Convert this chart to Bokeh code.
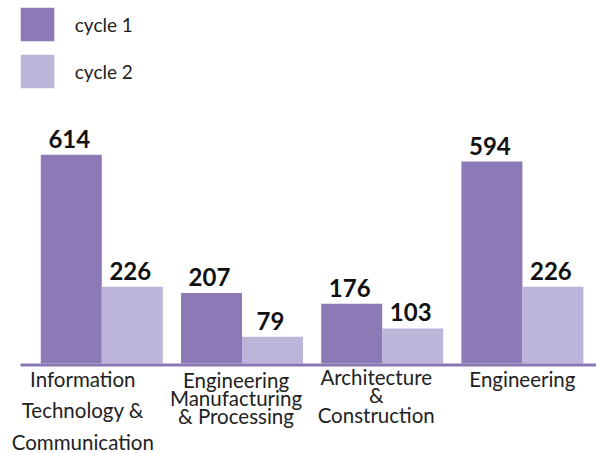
from bokeh.plotting import figure
from bokeh.models import ColumnDataSource, Range1d, Legend, LegendItem
from bokeh.transform import dodge
from bokeh.core.properties import value
from bokeh.embed import file_html
from bokeh.resources import INLINE

# ---- data ----
categories = ["Information Technology & Communication",
              "Engineering Manufacturing & Processing",
              "Architecture & Construction",
              "Engineering"]
category_lines = [["Information", "Technology &", "Communication"],
                  ["Engineering", "Manufacturing", "& Processing"],
                  ["Architecture", "&", "Construction"],
                  ["Engineering"]]
series = ["cycle 1", "cycle 2"]
cycle1 = [614, 207, 176, 594]
cycle2 = [226, 79, 103, 226]

# ---- style / layout ----
W, H = 596, 453
C1, C2 = "#8c7ab7", "#bdb4da"
AXIS_C = "#8a76b3"
FONT = "Lato"
PX_PER_GROUP = 140.2
PX_PER_UNIT_Y = 0.34
BASE_Y = 363           # canvas px of baseline
GROUP0_X = 101.3       # canvas px of first group centre
BAR_W = 61 / PX_PER_GROUP
label_dx = [-19, -6, -6, 0]
line_offsets = [[15, 46, 78], [16, 34, 52], [13, 31, 51], [15]]

idx = list(range(len(categories)))
src = ColumnDataSource(dict(
    idx=idx, cycle1=cycle1, cycle2=cycle2,
    t1=[str(v) for v in cycle1], t2=[str(v) for v in cycle2]))

x_start = -GROUP0_X / PX_PER_GROUP
x_end = (W - GROUP0_X) / PX_PER_GROUP
y_top = BASE_Y / PX_PER_UNIT_Y
y_bot = -(H - BASE_Y) / PX_PER_UNIT_Y

p = figure(width=W, height=H, output_backend="svg", toolbar_location=None,
           x_range=Range1d(x_start, x_end), y_range=Range1d(y_bot, y_top),
           x_axis_location=None, y_axis_location=None, min_border=0,
           outline_line_color=None, background_fill_color="white",
           border_fill_color="white")
p.grid.visible = False

r1 = p.vbar(x=dodge("idx", -BAR_W / 2, range=p.x_range), top="cycle1", bottom=0,
            width=BAR_W, source=src, fill_color=C1, line_color=None)
r2 = p.vbar(x=dodge("idx", BAR_W / 2, range=p.x_range), top="cycle2", bottom=0,
            width=BAR_W, source=src, fill_color=C2, line_color=None)

# baseline
p.segment(x0=[x_start + 20 / PX_PER_GROUP], x1=[x_end], y0=[-1.5 / PX_PER_UNIT_Y],
          y1=[-1.5 / PX_PER_UNIT_Y], line_color=AXIS_C, line_width=3)

for col, tcol, dx in (("cycle1", "t1", -BAR_W / 2), ("cycle2", "t2", BAR_W / 2)):
    p.text(x=dodge("idx", dx, range=p.x_range), y=col, text=tcol, source=src,
           text_align="center", text_baseline="alphabetic", y_offset=-16, x_offset=-2,
           text_font=value(FONT), text_font_style="bold", text_font_size="24px",
           text_color="#111111")

# category labels
lx, ly, lt, lxo, lyo = [], [], [], [], []
for i, lines in enumerate(category_lines):
    for j, line in enumerate(lines):
        lx.append(i); ly.append(0); lt.append(line)
        lxo.append(label_dx[i]); lyo.append(line_offsets[i][j])
lsrc = ColumnDataSource(dict(x=lx, y=ly, text=lt, xo=lxo, yo=lyo))
p.text(x="x", y="y", text="text", x_offset="xo", y_offset="yo", source=lsrc,
       text_align="center", text_baseline="alphabetic",
       text_font=value(FONT), text_font_size="20.5px", text_color="#222222")

legend = Legend(items=[LegendItem(label=series[0], renderers=[r1]),
                       LegendItem(label=series[1], renderers=[r2])],
                location=(15.8, 360.9), orientation="vertical",
                glyph_width=42, glyph_height=42, spacing=5, padding=0, margin=0,
                label_standoff=17, label_text_font=FONT, label_text_font_size="19px",
                label_text_color="#222222", border_line_color=None,
                background_fill_alpha=0)
p.add_layout(legend)

open("out.html", "w").write(file_html(p, INLINE))
